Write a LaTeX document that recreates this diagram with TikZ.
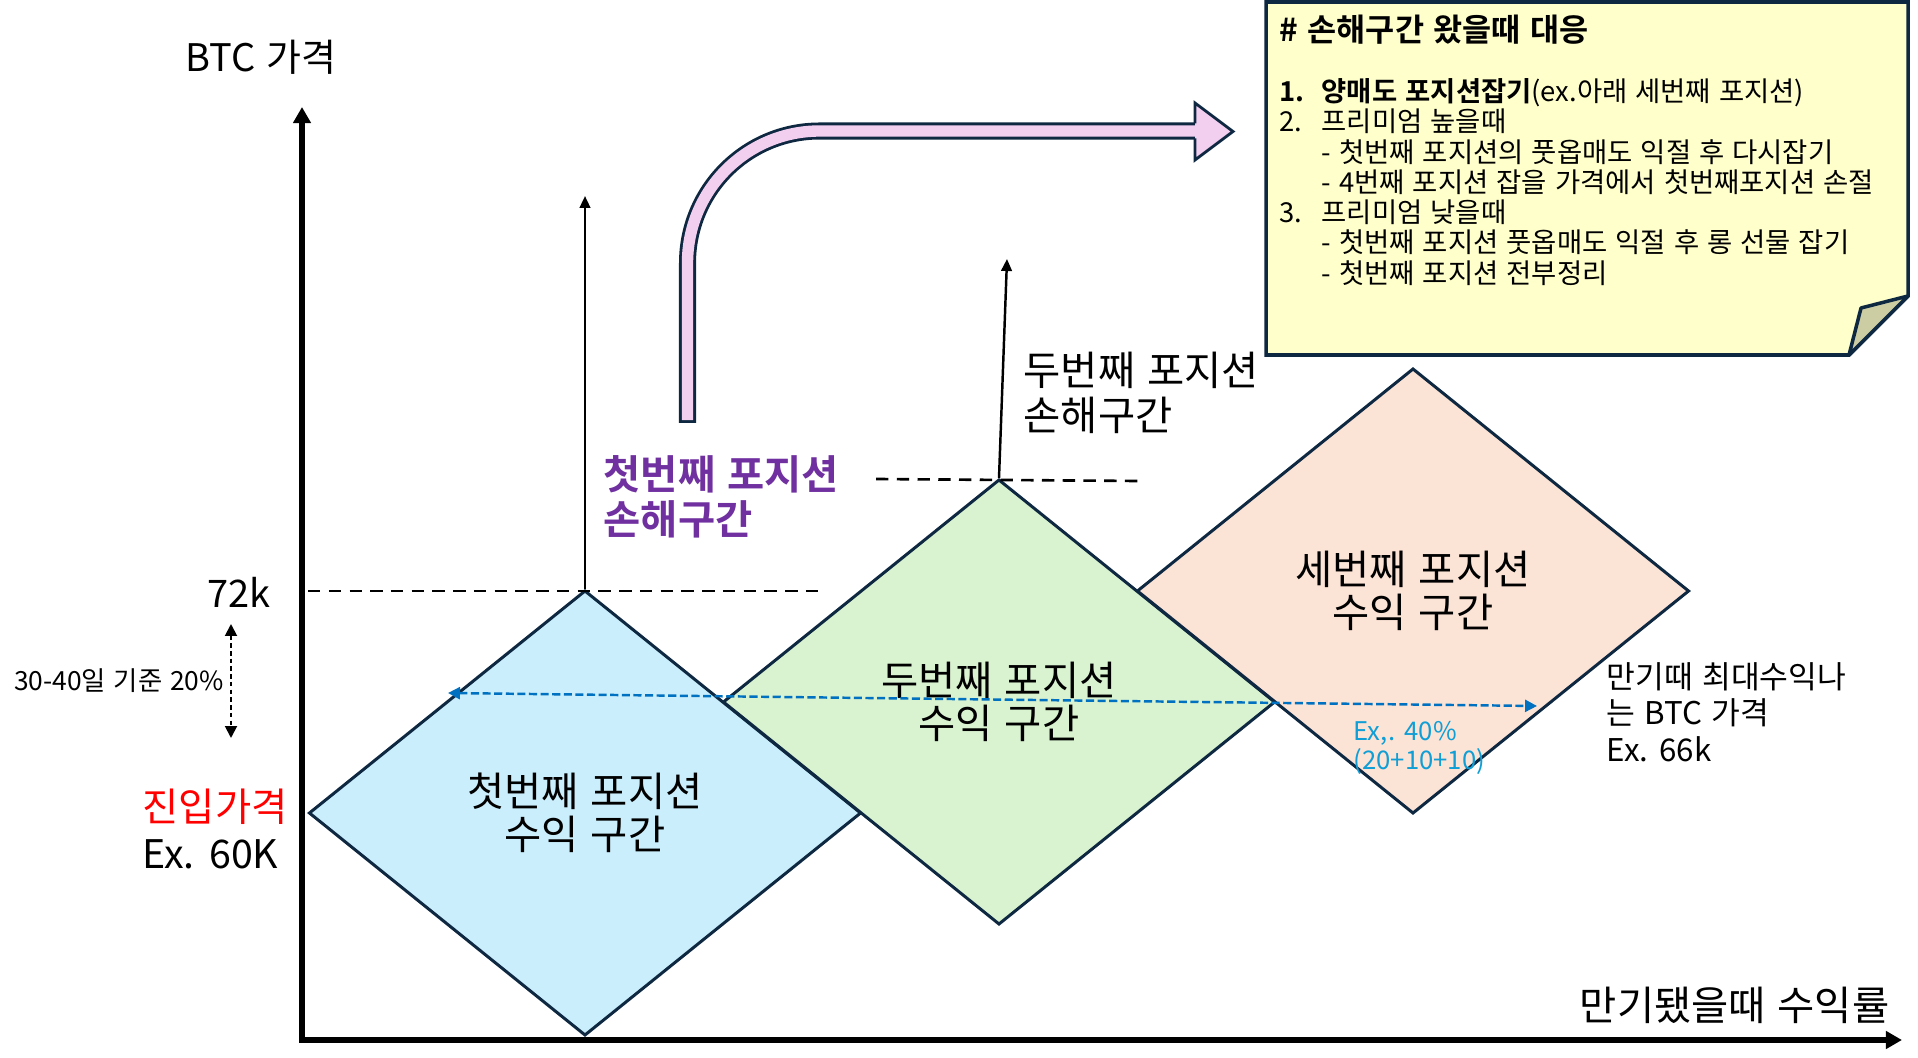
\documentclass[tikz,border=0pt]{standalone}
\usepackage{fontspec}
\setmainfont{Noto Sans CJK KR}[BoldFont={Noto Sans CJK KR Bold},WordSpace=1.3]
\usetikzlibrary{shapes.geometric,arrows.meta}
\definecolor{Ink}{HTML}{0E2841}
\definecolor{SkyFill}{HTML}{CAEEFB}
\definecolor{MintFill}{HTML}{D9F2D0}
\definecolor{PeachFill}{HTML}{FBE3D6}
\definecolor{Orchid}{HTML}{F2CEEF}
\definecolor{MemoFill}{HTML}{FFFFCC}
\definecolor{FoldFill}{HTML}{CDCDA4}
\definecolor{Plum}{HTML}{7030A0}
\definecolor{Ocean}{HTML}{0070C0}
\definecolor{ExBlue}{HTML}{0F9ED5}

\begin{document}
\begin{tikzpicture}[x=0.01cm,y=-0.01cm,
    zone/.style={diamond,draw=Ink,line width=0.85pt,minimum width=5.52cm,minimum height=4.45cm,
                 inner sep=0pt,align=center,font=\fontsize{11.5}{12.3}\selectfont},
    big/.style={inner sep=0pt,font=\fontsize{11.5}{12.8}\selectfont},
    small/.style={inner sep=0pt,font=\fontsize{7.5}{8.3}\selectfont},
    axis/.style={line width=1.85pt,{Triangle[length=4.6pt,width=4.9pt]}-{Triangle[length=4.6pt,width=4.9pt]}},
    rise/.style={line width=0.7pt,-{Triangle[length=3.4pt,width=3pt]}},
    guide/.style={line width=0.75pt,dash pattern=on 3.5pt off 2.4pt},
    span/.style={line width=0.7pt,Ocean,dash pattern=on 2.3pt off 1pt,
                 {Triangle[length=3.4pt,width=3.4pt]}-{Triangle[length=3.4pt,width=3.4pt]}}
  ]
    \useasboundingbox (0,0) rectangle (1918,1058);
    \coordinate (origin) at (302,1040);
    \coordinate (ytip) at (302,107);
    \coordinate (xtip) at (1902,1040);
    \coordinate (g1a) at (308,591);
    \coordinate (g1b) at (822,591);
    \coordinate (g2a) at (876,479);
    \coordinate (g2b) at (1138,481);
    \coordinate (up1) at (585,196);
    \coordinate (up2) at (1007,259);
    \coordinate (spanL) at (448,693);
    \coordinate (spanR) at (1537,706);
    \coordinate (pctT) at (231,624);
    \coordinate (pctB) at (231,738);

    \node[zone,fill=SkyFill] (first) at (585,813) {첫번째 포지션\\수익 구간};
    \node[zone,fill=MintFill] (second) at (999,702) {두번째 포지션\\수익 구간};
    \node[zone,fill=PeachFill] (third) at (1413,591) {세번째 포지션\\수익 구간};

    \draw[axis] (ytip) -- (origin) -- (xtip);
    \draw[guide] (g1a) -- (g1b);
    \draw[guide] (g2a) -- (g2b);
    \foreach \z/\t in {first/up1,second/up2} \draw[rise] (\z.north) -- (\t);
    \draw[span] (spanL) -- (spanR);
    \draw[span,black,line width=0.55pt,dash pattern=on 1.3pt off 0.9pt] (pctT) -- (pctB);

    \draw[Ink,line width=4.84pt,rounded corners=1.32cm] (687.5,423) -- (687.5,131) -- (1200,131);
    \draw[Orchid,line width=3.24pt,rounded corners=1.32cm] (687.5,420.2) -- (687.5,131) -- (1200,131);
    \fill[Orchid] (1195,103) -- (1233,131.5) -- (1195,160) -- cycle;
    \draw[Ink,line width=0.8pt] (1195,123.5) -- (1195,103) -- (1233,131.5) -- (1195,160) -- (1195,138.5);

    \draw[Ink,line width=1pt,fill=MemoFill] (1266,2) -- (1908,2) -- (1908,296) -- (1849,355) -- (1266,355) -- cycle;
    \draw[Ink,line width=1pt,fill=FoldFill,line join=round] (1908,296) -- (1861,308) -- (1849,355) -- cycle;
    \node[anchor=north west,align=left,inner sep=0pt,font=\fontsize{7.8}{8.6}\selectfont] (memo) at (1279,14)
      {{\fontsize{9}{8.6}\selectfont\bfseries \# 손해구간 왔을때 대응}\\[8.6pt]
       \makebox[0.42cm][l]{\bfseries 1.}\textbf{양매도 포지션잡기}(ex.아래 세번째 포지션)\\
       \makebox[0.42cm][l]{2.}프리미엄 높을때\\
       \hspace*{0.42cm}- 첫번째 포지션의 풋옵매도 익절 후 다시잡기\\
       \hspace*{0.42cm}- 4번째 포지션 잡을 가격에서 첫번째포지션 손절\\
       \makebox[0.42cm][l]{3.}프리미엄 낮을때\\
       \hspace*{0.42cm}- 첫번째 포지션 풋옵매도 익절 후 롱 선물 잡기\\
       \hspace*{0.42cm}- 첫번째 포지션 전부정리};

    \node[inner sep=0pt,font=\fontsize{10.8}{12.8}\selectfont,anchor=base] (ylabel) at (261,72) {BTC 가격};
    \node[inner sep=0pt,font=\fontsize{10.8}{12.8}\selectfont] (cap) at (239,592) {72k};
    \node[small] (period) at (119,681) {30-40일 기준 20\%};
    \node[big,anchor=west,align=left,font=\fontsize{11.2}{13.6}\selectfont] (entry) at (142,829)
      {\textcolor{red}{진입가격}\\Ex. 60K};
    \node[big,anchor=west,align=left,text=Plum,font=\fontsize{11.5}{12.8}\selectfont\bfseries] (loss1) at (603,497)
      {첫번째 포지션\\손해구간};
    \node[big,anchor=west,align=left] (loss2) at (1023,393) {두번째 포지션\\손해구간};
    \node[anchor=west,align=left,inner sep=0pt,font=\fontsize{8.9}{10.4}\selectfont] (peak) at (1606,712)
      {만기때 최대수익나\\는 BTC 가격\\Ex. 66k};
    \node[anchor=west,align=left,inner sep=0pt,text=ExBlue,font=\fontsize{7.3}{8.3}\selectfont] (gain) at (1353,748)
      {Ex,. 40\%\\(20+10+10)};
    \node[big,anchor=east] (xlabel) at (1890,1005) {만기됐을때 수익률};
  \end{tikzpicture}
\end{document}
